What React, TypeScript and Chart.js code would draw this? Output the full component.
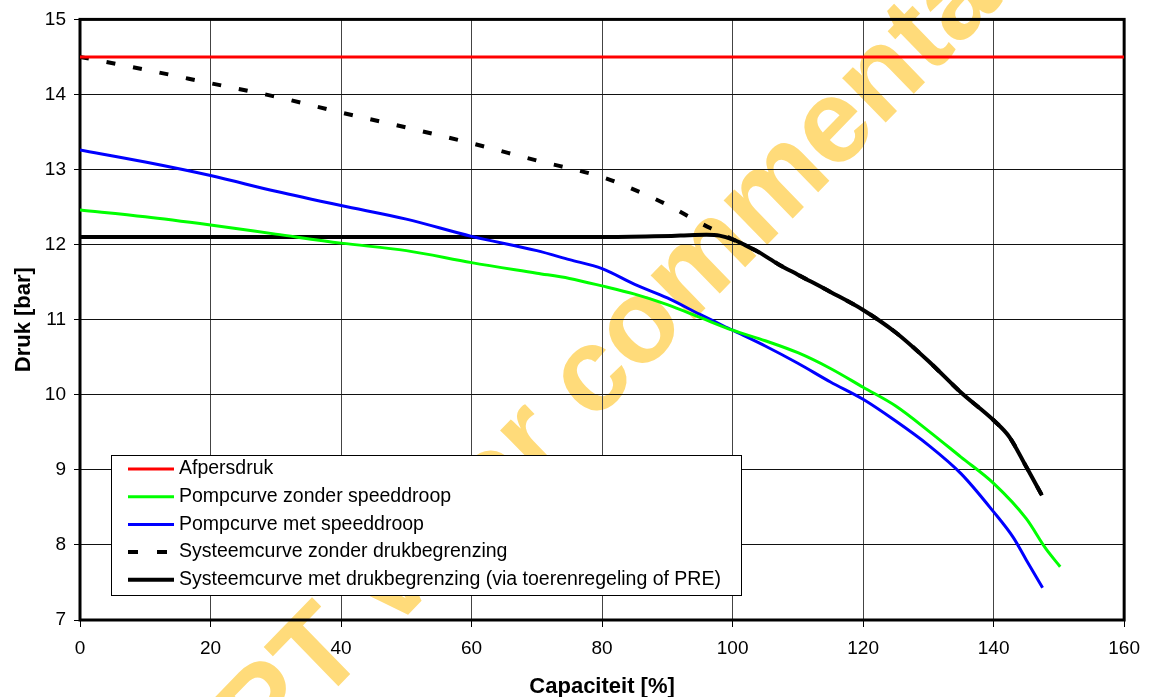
import React, { useEffect, useRef } from "react";
import { Chart, registerables } from "chart.js";

Chart.register(...registerables);

const FONT = "'Liberation Sans', Arial, Helvetica, sans-serif";

// ---- Axis setup ----
const xMin = 0;
const xMax = 160;
const xStep = 20;
const yMin = 7;
const yMax = 15;
const yStep = 1;
const xTitle = "Capaciteit [%]";
const yTitle = "Druk [bar]";
const watermarkText = "CONCEPT voor commentaar";

// ---- Series labels ----
const labelAfpers = "Afpersdruk";
const labelZonderSpeed = "Pompcurve zonder speeddroop";
const labelMetSpeed = "Pompcurve met speeddroop";
const labelSysZonder = "Systeemcurve zonder drukbegrenzing";
const labelSysMet = "Systeemcurve met drukbegrenzing (via toerenregeling of PRE)";

// ---- Series data ----
const afpersX = [0, 160];
const afpersY = [14.5, 14.5];

const zonderSpeedX = [0, 10, 20, 30, 40, 50, 60, 70, 75, 80, 85, 90, 95, 100, 105, 110, 115, 120, 125, 130, 135, 140, 145, 148, 150.2];
const zonderSpeedY = [12.46, 12.37, 12.26, 12.14, 12.02, 11.92, 11.76, 11.62, 11.55, 11.45, 11.34, 11.2, 11.03, 10.86, 10.72, 10.56, 10.35, 10.1, 9.85, 9.52, 9.17, 8.82, 8.35, 7.95, 7.71];

const metSpeedX = [0, 10, 20, 30, 40, 50, 60, 70, 75, 80, 85, 90, 95, 100, 105, 110, 115, 120, 125, 130, 135, 140, 143, 145, 147.5];
const metSpeedY = [13.26, 13.1, 12.92, 12.71, 12.52, 12.34, 12.11, 11.92, 11.8, 11.68, 11.47, 11.29, 11.07, 10.86, 10.65, 10.42, 10.17, 9.94, 9.65, 9.33, 8.95, 8.44, 8.1, 7.8, 7.43];

const sysZonderX = [0, 10, 20, 30, 40, 50, 60, 70, 80, 85, 90, 95, 98, 100, 102, 104, 107, 110, 115, 120, 125, 130, 135, 140, 142.4, 145, 147.4];
const sysZonderY = [14.5, 14.33, 14.15, 13.97, 13.76, 13.56, 13.35, 13.12, 12.9, 12.73, 12.53, 12.29, 12.16, 12.07, 11.99, 11.9, 11.74, 11.6, 11.37, 11.13, 10.83, 10.45, 10.03, 9.66, 9.44, 9.04, 8.66];

const sysMetX = [0, 20, 40, 60, 80, 88, 92, 96, 98, 100, 102, 104, 107, 110, 115, 120, 125, 130, 135, 140, 142.4, 145, 147.4];
const sysMetY = [12.1, 12.1, 12.1, 12.1, 12.1, 12.11, 12.12, 12.13, 12.12, 12.07, 11.99, 11.9, 11.74, 11.6, 11.37, 11.13, 10.83, 10.45, 10.03, 9.66, 9.44, 9.04, 8.66];

const toPoints = (xs: number[], ys: number[]) => xs.map((x, i) => ({ x, y: ys[i] }));

const watermarkPlugin = {
  id: "watermark",
  beforeDraw(chart: any) {
    const ctx = chart.ctx as CanvasRenderingContext2D;
    ctx.save();
    ctx.fillStyle = "#ffffff";
    ctx.fillRect(0, 0, chart.width, chart.height);
    const f = 116;
    ctx.font = `bold ${f}px ${FONT}`;
    const pre = ctx.measureText("CONCEP").width;
    const tw = ctx.measureText("T").width;
    const tcx = pre + tw / 2;
    const tcy = -0.358 * f;
    const k = 1.03;
    const c = Math.SQRT1_2;
    const mx = c * tcx + c * tcy;
    const my = k * (-c * tcx + c * tcy);
    ctx.translate(315 - mx, 650 - my);
    ctx.scale(1, k);
    ctx.rotate(-Math.PI / 4);
    ctx.fillStyle = "#FFDB7A";
    ctx.textBaseline = "alphabetic";
    ctx.textAlign = "left";
    ctx.fillText(watermarkText, 0, 0);
    ctx.restore();
  },
};

const framePlugin = {
  id: "frame",
  beforeDatasetsDraw(chart: any) {
    const { ctx, chartArea } = chart;
    ctx.save();
    ctx.strokeStyle = "#000";
    ctx.lineWidth = 3;
    ctx.strokeRect(chartArea.left, chartArea.top, chartArea.right - chartArea.left, chartArea.bottom - chartArea.top);
    ctx.restore();
  },
};

const legendPlugin = {
  id: "boxLegend",
  afterDatasetsDraw(chart: any) {
    const ctx = chart.ctx as CanvasRenderingContext2D;
    ctx.save();
    ctx.fillStyle = "#fff";
    ctx.fillRect(111.5, 455.5, 630, 140);
    ctx.strokeStyle = "#000";
    ctx.lineWidth = 1;
    ctx.strokeRect(111.5, 455.5, 630, 140);
    chart.data.datasets.forEach((ds: any, i: number) => {
      const y = 469 + i * 27.7;
      ctx.beginPath();
      const dashed = ds.borderDash && ds.borderDash.length;
      ctx.setLineDash(dashed ? [10, 19] : []);
      ctx.lineCap = "butt";
      ctx.lineWidth = ds.borderWidth;
      ctx.strokeStyle = ds.borderColor;
      ctx.moveTo(128, y);
      ctx.lineTo(dashed ? 167 : 174, y);
      ctx.stroke();
      ctx.setLineDash([]);
      ctx.fillStyle = "#000";
      ctx.font = `19.5px ${FONT}`;
      ctx.textBaseline = "middle";
      ctx.textAlign = "left";
      ctx.fillText(ds.label, 179, y);
    });
    ctx.restore();
  },
};

export default function App() {
  const ref = useRef<HTMLCanvasElement | null>(null);

  useEffect(() => {
    document.body.style.margin = "0";
    const canvas = ref.current!;
    const common = { pointRadius: 0, cubicInterpolationMode: "monotone" as const, fill: false };
    const chart = new Chart(canvas, {
      type: "line",
      data: {
        datasets: [
          { ...common, label: labelAfpers, data: toPoints(afpersX, afpersY), borderColor: "#ff0000", borderWidth: 3 },
          { ...common, label: labelZonderSpeed, data: toPoints(zonderSpeedX, zonderSpeedY), borderColor: "#00ff00", borderWidth: 3 },
          { ...common, label: labelMetSpeed, data: toPoints(metSpeedX, metSpeedY), borderColor: "#0000ff", borderWidth: 3 },
          { ...common, label: labelSysZonder, data: toPoints(sysZonderX, sysZonderY), borderColor: "#000000", borderWidth: 4, borderDash: [9, 18] },
          { ...common, label: labelSysMet, data: toPoints(sysMetX, sysMetY), borderColor: "#000000", borderWidth: 4 },
        ],
      },
      options: {
        animation: false,
        responsive: false,
        maintainAspectRatio: false,
        parsing: false as any,
        layout: { padding: { top: 19, right: 25, left: 0, bottom: 0 } },
        plugins: { legend: { display: false }, tooltip: { enabled: false }, title: { display: false } },
        scales: {
          x: {
            type: "linear",
            min: xMin,
            max: xMax,
            ticks: { stepSize: xStep, color: "#000", font: { family: FONT, size: 19 }, padding: 10, maxRotation: 0 },
            grid: { color: "#444", lineWidth: 1, tickLength: 7, tickColor: "#000", tickWidth: 1 },
            border: { display: false },
            title: { display: true, text: xTitle, color: "#000", font: { family: FONT, size: 22, weight: "bold" }, padding: { top: 0, bottom: -3 } },
            afterFit: (s: any) => { s.height = 77; },
          },
          y: {
            type: "linear",
            min: yMin,
            max: yMax,
            ticks: { stepSize: yStep, color: "#000", font: { family: FONT, size: 19 }, padding: 8 },
            grid: { color: "#111", lineWidth: 1, tickLength: 6, tickColor: "#000", tickWidth: 1 },
            border: { display: false },
            title: { display: true, text: yTitle, color: "#000", font: { family: FONT, size: 22, weight: "bold" }, padding: { top: 11, bottom: 0 } },
            afterFit: (s: any) => { s.width = 80; },
          },
        },
      } as any,
      plugins: [watermarkPlugin, framePlugin, legendPlugin],
    });
    return () => chart.destroy();
  }, []);

  return (
    <div style={{ position: "fixed", left: 0, top: 0, width: 1150, height: 697, background: "#fff" }}>
      <canvas ref={ref} width={1150} height={697} style={{ width: 1150, height: 697, display: "block" }} />
    </div>
  );
}
